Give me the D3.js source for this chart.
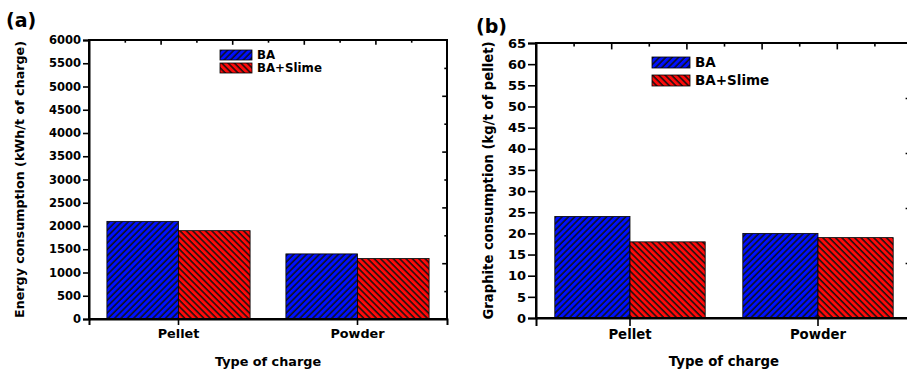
<!DOCTYPE html>
<html>
<head>
<meta charset="utf-8">
<title>Energy and graphite consumption</title>
<style>
body { margin: 0; background: #fff; }
svg text { font-family: "DejaVu Sans", sans-serif; font-weight: bold; fill: #000; }
.axis path, .axis line { stroke: #000; }
</style>
</head>
<body>
<svg width="907" height="372"></svg>
<script src="https://d3js.org/d3.v7.min.js"></script>
<script>
// data
var categories = ["Pellet", "Powder"];
var seriesNames = ["BA", "BA+Slime"];

var energyBA = [2100, 1400];
var energySlime = [1900, 1300];
var energyTicks = [0, 500, 1000, 1500, 2000, 2500, 3000, 3500, 4000, 4500, 5000, 5500, 6000];

var graphiteBA = [24, 20];
var graphiteSlime = [18, 19];
var graphiteTicks = [0, 5, 10, 15, 20, 25, 30, 35, 40, 45, 50, 55, 60, 65];

var svg = d3.select("svg");

// hatch patterns
var defs = svg.append("defs");
function hatch(id, color, angle) {
  var p = defs.append("pattern")
      .attr("id", id)
      .attr("patternUnits", "userSpaceOnUse")
      .attr("width", 4.5)
      .attr("height", 4.5)
      .attr("patternTransform", "rotate(" + angle + ")");
  p.append("rect").attr("width", 4.5).attr("height", 4.5).attr("fill", color);
  p.append("line")
      .attr("x1", 1).attr("y1", 0).attr("x2", 1).attr("y2", 4.5)
      .attr("stroke", "#111").attr("stroke-width", 1.5);
}
hatch("hatchBlue", "#0010ff", 45);
hatch("hatchRed", "#ff0a0a", -45);
var fills = ["url(#hatchBlue)", "url(#hatchRed)"];

function drawPanel(o) {
  var g = svg.append("g");
  var w = o.right - o.left, h = o.bottom - o.top;

  var x = d3.scaleBand().domain(categories)
      .range([o.left, o.right]).paddingInner(0.2).paddingOuter(0.1);
  var xs = d3.scaleBand().domain(seriesNames).range([0, x.bandwidth()]);
  var y = d3.scaleLinear().domain([0, d3.max(o.ticks)]).range([o.bottom, o.top]);

  // bars
  var rows = categories.map(function(c, i) {
    return {cat: c, vals: [o.series[0][i], o.series[1][i]]};
  });
  var grp = g.selectAll(".cat").data(rows).enter().append("g")
      .attr("transform", function(d) { return "translate(" + x(d.cat) + ",0)"; });
  grp.selectAll("rect")
      .data(function(d) { return d.vals.map(function(v, j) { return {s: seriesNames[j], v: v, j: j}; }); })
      .enter().append("rect")
      .attr("x", function(d) { return xs(d.s); })
      .attr("y", function(d) { return y(d.v); })
      .attr("width", xs.bandwidth())
      .attr("height", function(d) { return o.bottom - y(d.v); })
      .attr("fill", function(d) { return fills[d.j]; })
      .attr("stroke", "#000")
      .attr("stroke-width", 0.8);

  // secondary frame axes, 10 divisions, alternating major / minor
  var fx = d3.scaleLinear().domain([0, 10]).range([o.left, o.right]);
  var fy = d3.scaleLinear().domain([0, 10]).range([o.bottom, o.top]);
  [[2, 4, 6, 8], [1, 3, 5, 7, 9]].forEach(function(vals, k) {
    var len = k === 0 ? o.tick * 0.8 : o.tick * 0.45;
    g.append("g").attr("class", "axis")
        .attr("transform", "translate(0," + o.top + ")")
        .call(d3.axisTop(fx).tickValues(vals).tickSize(-len).tickFormat(""))
        .call(function(s) { s.select(".domain").remove(); })
        .selectAll("line").attr("stroke-width", 1.6);
    g.append("g").attr("class", "axis")
        .attr("transform", "translate(" + o.right + ",0)")
        .call(d3.axisRight(fy).tickValues(vals).tickSize(-len).tickFormat(""))
        .call(function(s) { s.select(".domain").remove(); })
        .selectAll("line").attr("stroke-width", 1.6);
  });

  // frame
  g.append("rect")
      .attr("x", o.left).attr("y", o.top)
      .attr("width", w).attr("height", h)
      .attr("fill", "none").attr("stroke", "#000").attr("stroke-width", 2);

  // left axis
  var ya = g.append("g").attr("class", "axis")
      .attr("transform", "translate(" + o.left + ",0)")
      .call(d3.axisLeft(y).tickValues(o.ticks).tickSize(o.tick).tickPadding(2)
        .tickFormat(d3.format("d")));
  ya.select(".domain").attr("stroke-width", 2);
  ya.selectAll("line").attr("stroke-width", 1.6);
  ya.selectAll("text").style("font-size", o.tickFont + "px");

  // bottom axis
  var xa = g.append("g").attr("class", "axis")
      .attr("transform", "translate(0," + o.bottom + ")")
      .call(d3.axisBottom(x).tickSize(o.tick).tickPadding(4));
  xa.select(".domain").attr("stroke-width", 2);
  xa.selectAll("line").attr("stroke-width", 1.6);
  xa.selectAll("text").style("font-size", o.catFont + "px");

  // titles
  g.append("text")
      .attr("x", (o.left + o.right) / 2).attr("y", o.xTitleY)
      .attr("text-anchor", "middle")
      .style("font-size", o.catFont + "px")
      .text("Type of charge");
  g.append("text")
      .attr("transform", "translate(" + o.yTitleX + "," + (o.top + o.bottom) / 2 + ") rotate(-90)")
      .attr("text-anchor", "middle")
      .style("font-size", o.yTitleFont + "px")
      .text(o.yTitle);
  g.append("text")
      .attr("x", o.labelX).attr("y", o.labelY)
      .style("font-size", "19px")
      .text(o.label);

  // legend
  var lg = g.append("g")
      .attr("transform", "translate(" + (o.left + o.legX) + "," + (o.top + o.legY) + ")");
  seriesNames.forEach(function(n, j) {
    lg.append("rect")
        .attr("x", 0).attr("y", j * o.legStep)
        .attr("width", o.swW).attr("height", o.swH)
        .attr("fill", fills[j]).attr("stroke", "#000").attr("stroke-width", 0.8);
    lg.append("text")
        .attr("x", o.swW + 5).attr("y", j * o.legStep + o.swH / 2)
        .attr("dy", "0.36em")
        .style("font-size", o.legFont + "px")
        .text(n);
  });
}

drawPanel({
  left: 89, right: 447, top: 40, bottom: 319,
  series: [energyBA, energySlime], ticks: energyTicks,
  tick: 6, tickFont: 11.5, catFont: 12.8,
  xTitleY: 366, yTitleX: 24, yTitleFont: 12.7,
  yTitle: "Energy consumption (kWh/t of charge)",
  label: "(a)", labelX: 6, labelY: 27,
  legX: 131, legY: 10, legStep: 13, swW: 32, swH: 10, legFont: 11.8
});

drawPanel({
  left: 536, right: 912, top: 43, bottom: 318,
  series: [graphiteBA, graphiteSlime], ticks: graphiteTicks,
  tick: 8, tickFont: 13, catFont: 13.3,
  xTitleY: 366, yTitleX: 493, yTitleFont: 13.2,
  yTitle: "Graphite consumption (kg/t of pellet)",
  label: "(b)", labelX: 476, labelY: 33,
  legX: 116, legY: 14, legStep: 18, swW: 38, swH: 11, legFont: 13.5
});
</script>
</body>
</html>
